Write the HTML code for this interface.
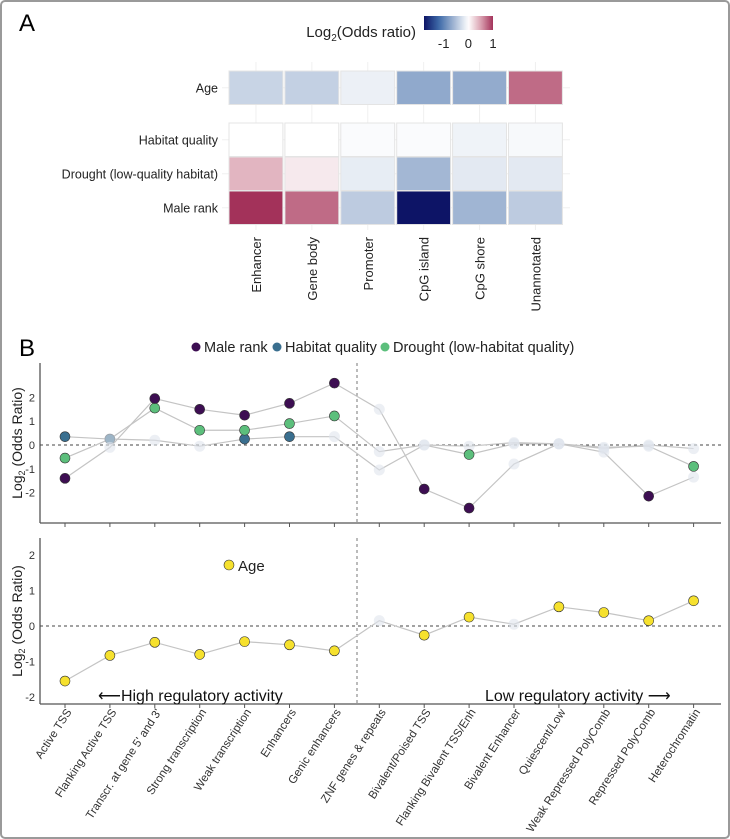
<!DOCTYPE html>
<html><head><meta charset="utf-8">
<style>
html,body{margin:0;padding:0;background:#fff;overflow:hidden;}
svg{display:block;font-family:"Liberation Sans",sans-serif;}
</style></head>
<body>
<svg id="fig" width="730" height="839" viewBox="0 0 730 839">
<rect x="1" y="1" width="728" height="837" rx="4" fill="#fff" stroke="#9a9a9a" stroke-width="2"/>
<text x="19" y="31" font-size="24">A</text>
<text x="19" y="356" font-size="24">B</text>
<g id="heat"></g>
<g id="upper"></g>
<g id="lower"></g>
</svg>
<script>
// ---------- Panel A data ----------
const heatCols = ["Enhancer","Gene body","Promoter","CpG island","CpG shore","Unannotated"];
const heatRows = ["Age","Habitat quality","Drought (low-quality habitat)","Male rank"];
const heatAge = [-0.35,-0.38,-0.12,-0.7,-0.68,0.75];
const heatHabitat = [0,0,-0.03,-0.03,-0.1,-0.05];
const heatDrought = [0.4,0.12,-0.15,-0.58,-0.18,-0.18];
const heatMale = [1.0,0.75,-0.42,-1.8,-0.6,-0.42];
const colorbarTicks = [-1,0,1];

// ---------- Panel B data ----------
const states = ["Active TSS","Flanking Active TSS","Transcr. at gene 5' and 3'","Strong transcription","Weak transcription","Enhancers","Genic enhancers","ZNF genes & repeats","Bivalent/Poised TSS","Flanking Bivalent TSS/Enh","Bivalent Enhancer","Quiescent/Low","Weak Repressed PolyComb","Repressed PolyComb","Heterochromatin"];
const maleRank = [-1.4,-0.1,1.95,1.5,1.25,1.75,2.6,1.5,-1.85,-2.65,-0.8,0.05,-0.3,-2.15,-1.35];
const maleSig = [1,0,1,1,1,1,1,0,1,1,0,0,0,1,0];
const habitat = [0.35,0.25,0.2,-0.05,0.25,0.35,0.35,-1.05,0.0,-0.05,0.1,0.05,-0.15,0.0,-0.15];
const habitatSig = [1,1,0,0,1,1,0,0,0,0,0,0,0,0,0];
const drought = [-0.55,0.25,1.55,0.62,0.62,0.9,1.22,-0.28,0.0,-0.4,0.05,0.05,-0.1,-0.05,-0.9];
const droughtSig = [1,0,1,1,1,1,1,0,0,1,0,0,0,0,1];
const age = [-1.55,-0.83,-0.46,-0.8,-0.44,-0.53,-0.7,0.15,-0.26,0.25,0.05,0.54,0.38,0.15,0.71];
const ageSig = [1,1,1,1,1,1,1,0,1,1,0,1,1,1,1];
const upperTicks = [-2,-1,0,1,2];
const lowerTicks = [-2,-1,0,1,2];

const NS="http://www.w3.org/2000/svg";
function mk(parent,tag,attrs,text){const e=document.createElementNS(NS,tag);for(const k in attrs)e.setAttribute(k,attrs[k]);if(text!==undefined)e.textContent=text;parent.appendChild(e);return e;}

const stops=[[-1.8,[13,20,102]],[-1.2,[61,106,168]],[-0.6,[160,181,211]],[0,[255,255,255]],[0.5,[219,163,178]],[1,[163,50,90]]];
function col(v){if(v<=stops[0][0])return rgb(stops[0][1]);for(let i=1;i<stops.length;i++){if(v<=stops[i][0]){const a=stops[i-1],b=stops[i];const t=(v-a[0])/(b[0]-a[0]);return rgb(a[1].map((c,j)=>c+(b[1][j]-c)*t));}}return rgb(stops[stops.length-1][1]);}
function rgb(a){return "rgb("+a.map(Math.round).join(",")+")";}

// ---------- heatmap ----------
const H=document.getElementById('heat');
const hx0=228,cw=55.9;
const rowY=[71,123,157,191];const rh=33.5;
const hx=i=>hx0+i*cw;
for(let i=0;i<6;i++){const g=mk(H,'line',{x1:hx(i)+cw/2,x2:hx(i)+cw/2,y1:62,y2:230,stroke:'#f0f0f0'});}
const rowsData=[heatAge,heatHabitat,heatDrought,heatMale];
rowsData.forEach((arr,r)=>{
  const g=mk(H,'line',{x1:222,x2:570,y1:rowY[r]+rh/2,y2:rowY[r]+rh/2,stroke:'#f0f0f0'});
  
  const t=mk(H,'text',{x:218,y:rowY[r]+rh/2+4.5,'text-anchor':'end','font-size':12.5,fill:'#222'},heatRows[r]);
  
  arr.forEach((v,c)=>{
    const rc=mk(H,'rect',{x:hx(c)+1,y:rowY[r],width:cw-2,height:rh,fill:col(v),stroke:'#e4e4e4','stroke-width':1});
    
  });
});
heatCols.forEach((n,c)=>{
  const x=hx(c)+cw/2+5,y=237;
  const t=mk(H,'text',{x:x,y:y,transform:`rotate(-90 ${x} ${y})`,'text-anchor':'end','font-size':13,fill:'#222'},n);
  
});
const cbx0=424,cbx1=493,cbMin=-1.8,cbMax=1.0;
const cbx=v=>cbx0+(v-cbMin)/(cbMax-cbMin)*(cbx1-cbx0);
const defs=mk(H,'defs',{});const lg=mk(defs,'linearGradient',{id:'cbg',x1:0,x2:1,y1:0,y2:0});
for(let i=0;i<=20;i++){const v=cbMin+(cbMax-cbMin)*i/20;mk(lg,'stop',{offset:(i/20),'stop-color':col(v)});}
const cb=mk(H,'rect',{x:cbx0,y:16,width:cbx1-cbx0,height:14,fill:'url(#cbg)'});

colorbarTicks.forEach(v=>{
  const t=mk(H,'text',{x:cbx(v),y:48,'text-anchor':'middle','font-size':13,fill:'#222'},String(v));
  
});
const lt=mk(H,'text',{x:416,y:37,'text-anchor':'end','font-size':15,fill:'#222'});

lt.innerHTML='Log<tspan font-size="10" dy="4">2</tspan><tspan dy="-4">(Odds ratio)</tspan>';

// ---------- panel B ----------
const bx=i=>65+i*44.9;
function chart(G,top,bottom,yZero,perUnit,ticks){
  const y=v=>yZero-v*perUnit;
  const ax=mk(G,'line',{x1:40,x2:40,y1:top,y2:bottom,stroke:'#555','stroke-width':1.3});
  
  const bxl=mk(G,'line',{x1:40,x2:721,y1:bottom,y2:bottom,stroke:'#555','stroke-width':1.3});
  
  ticks.forEach(v=>{
    const t=mk(G,'text',{x:35,y:y(v)+4,'text-anchor':'end','font-size':11,fill:'#333'},String(v));
    
  });
  states.forEach((s,i)=>{const t=mk(G,'line',{x1:bx(i),x2:bx(i),y1:bottom,y2:bottom+4,stroke:'#555'});
    });
  const z=mk(G,'line',{x1:40,x2:721,y1:y(0),y2:y(0),stroke:'#444','stroke-dasharray':'3,3'});
  
  const vd=mk(G,'line',{x1:357,x2:357,y1:top,y2:bottom,stroke:'#777','stroke-dasharray':'3,3'});
  
  const yl=mk(G,'text',{x:0,y:0,transform:`translate(22 ${(top+bottom)/2}) rotate(-90)`,'text-anchor':'middle','font-size':14,fill:'#222'});
  
  yl.innerHTML='Log<tspan font-size="9" dy="3">2</tspan><tspan dy="-3"> (Odds Ratio)</tspan>';
  return y;
}
function series(G,y,vals,sig,color,name){
  const pts=vals.map((v,i)=>bx(i)+','+y(v)).join(' ');
  const pl=mk(G,'polyline',{points:pts,fill:'none',stroke:'#c4c4c4','stroke-width':1.2});
  
  return ()=>vals.forEach((v,i)=>{
    const c=sig[i]?mk(G,'circle',{cx:bx(i),cy:y(v),r:5,fill:color,stroke:'#333','stroke-width':0.6})
                  :mk(G,'circle',{cx:bx(i),cy:y(v),r:5.5,fill:'#dfe5ec','fill-opacity':0.6});
    
  });
}
const U=document.getElementById('upper');
const yU=chart(U,363,523,445,23.8,upperTicks);
const d1=series(U,yU,habitat,habitatSig,'#3a6f8f','habitat-quality');
const d2=series(U,yU,drought,droughtSig,'#5cbf7c','drought');
const d3=series(U,yU,maleRank,maleSig,'#3d0e52','male-rank');
d1();d2();d3();
[[196,'#3d0e52','Male rank'],[277,'#3a6f8f','Habitat quality'],[385,'#5cbf7c','Drought (low-habitat quality)']].forEach(l=>{
  const c=mk(U,'circle',{cx:l[0],cy:347,r:4.5,fill:l[1]});
  
  const t=mk(U,'text',{x:l[0]+8,y:352,'font-size':14.5,fill:'#222'},l[2]);
  
});
const L=document.getElementById('lower');
const yL=chart(L,538,704,626,35.5,lowerTicks);
series(L,yL,age,ageSig,'#f6e12e','age')();
const ac=mk(L,'circle',{cx:229,cy:565,r:5,fill:'#f6e12e',stroke:'#333','stroke-width':0.6});

const at=mk(L,'text',{x:238,y:571,'font-size':15,fill:'#222'},'Age');

const hi=mk(L,'text',{x:98,y:701,'font-size':16,fill:'#111'},'⟵High regulatory activity');

const lo=mk(L,'text',{x:485,y:701,'font-size':16,fill:'#111'},'Low regulatory activity ⟶');

states.forEach((s,i)=>{
  const x=bx(i)+7,y=712;
  const t=mk(L,'text',{x:x,y:y,transform:`rotate(-57 ${x} ${y})`,'text-anchor':'end','font-size':11.5,fill:'#333'},s);
  
});
</script>
</body></html>
